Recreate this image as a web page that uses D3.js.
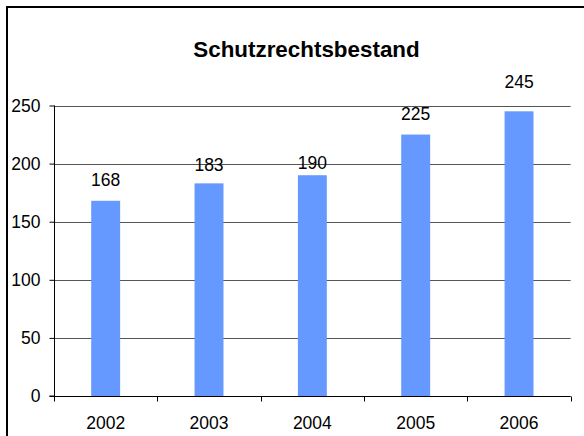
<!DOCTYPE html>
<html>
<head>
<meta charset="utf-8">
<script src="https://cdn.jsdelivr.net/npm/d3@7"></script>
<style>
  html, body { margin: 0; padding: 0; background: #fff; }
  svg { display: block; font-family: Arial, "Liberation Sans", sans-serif; }
</style>
</head>
<body>
<svg id="chart" width="584" height="436"></svg>
<script>
// Patent portfolio per year
const years = ["2002", "2003", "2004", "2005", "2006"];
const counts = [168, 183, 190, 225, 245];
const yTicks = [0, 50, 100, 150, 200, 250];
const title = "Schutzrechtsbestand";

// Vertical gap (px) between each bar top and its value label baseline
const labelGap = [15, 12, 6, 15, 23];

const svg = d3.select("#chart");

// Chart frame (runs past the right and bottom edges)
svg.append("rect")
  .attr("x", 7).attr("y", 7)
  .attr("width", 620).attr("height", 460)
  .attr("fill", "#fff")
  .attr("stroke", "#000")
  .attr("stroke-width", 2);

const plot = { left: 54, right: 570.7, top: 105.5, bottom: 396 };

const x = d3.scaleBand()
  .domain(years)
  .range([plot.left, plot.right])
  .paddingInner(0.72)
  .paddingOuter(0.36);

const y = d3.scaleLinear()
  .domain([0, 250])
  .range([plot.bottom, plot.top]);

// Title
svg.append("text")
  .attr("x", 306.5).attr("y", 57)
  .attr("text-anchor", "middle")
  .attr("font-weight", "bold")
  .attr("font-size", "22.4px")
  .attr("fill", "#000")
  .text(title);

// Horizontal gridlines
svg.append("g")
  .selectAll("line")
  .data(yTicks.filter(t => t > 0))
  .join("line")
  .attr("x1", plot.left).attr("x2", plot.right)
  .attr("y1", d => Math.round(y(d)) + 0.5)
  .attr("y2", d => Math.round(y(d)) + 0.5)
  .attr("stroke", "#555")
  .attr("stroke-width", 1);

// Bars
svg.append("g")
  .selectAll("rect")
  .data(counts)
  .join("rect")
  .attr("x", (d, i) => x(years[i]))
  .attr("y", d => y(d))
  .attr("width", x.bandwidth())
  .attr("height", d => y(0) - y(d))
  .attr("fill", "#6699ff");

// Y axis
const yAxis = svg.append("g")
  .attr("transform", `translate(${plot.left + 0.5},0)`)
  .call(d3.axisLeft(y).tickValues(yTicks).tickSize(5).tickPadding(9).tickFormat(d3.format("d")));
yAxis.select(".domain").attr("stroke", "#000").attr("d", `M-5,${y(0)}H0V${plot.top}`);
yAxis.selectAll(".tick line").attr("stroke", "#000");
yAxis.selectAll(".tick text")
  .attr("font-family", "Arial, 'Liberation Sans', sans-serif")
  .attr("font-size", "17.5px")
  .attr("fill", "#000");

// X axis: labels centred on bars, ticks on category boundaries
const baseY = Math.round(y(0)) + 0.5;
const xAxis = svg.append("g")
  .attr("transform", `translate(0,${baseY})`)
  .call(d3.axisBottom(x).tickSize(0).tickPadding(20));
xAxis.select(".domain").attr("stroke", "#000").attr("d", `M${plot.left},0H${plot.right}`);
xAxis.selectAll(".tick text")
  .attr("font-family", "Arial, 'Liberation Sans', sans-serif")
  .attr("font-size", "17.5px")
  .attr("fill", "#000");

const bounds = d3.range(years.length + 1).map(i => plot.left + i * x.step());
svg.append("g")
  .selectAll("line")
  .data(bounds)
  .join("line")
  .attr("x1", d => Math.round(d) + 0.5).attr("x2", d => Math.round(d) + 0.5)
  .attr("y1", baseY).attr("y2", baseY + 5)
  .attr("stroke", "#000");

// Value labels
svg.append("g")
  .selectAll("text")
  .data(counts)
  .join("text")
  .attr("x", (d, i) => x(years[i]) + x.bandwidth() / 2)
  .attr("y", (d, i) => y(d) - labelGap[i])
  .attr("text-anchor", "middle")
  .attr("font-size", "17.5px")
  .attr("fill", "#000")
  .text(d => d);
</script>
</body>
</html>
